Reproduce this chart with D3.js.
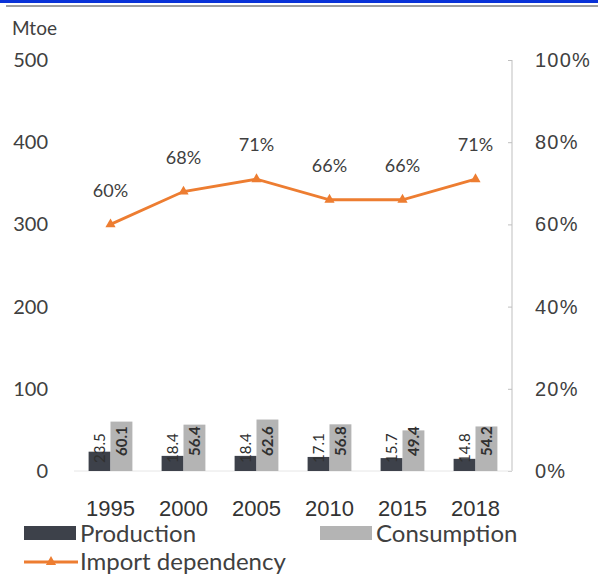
<!DOCTYPE html>
<html><head><meta charset="utf-8">
<script src="https://cdn.jsdelivr.net/npm/d3@7"></script>
<style>body{margin:0;background:#fff}svg{display:block;font-family:Lato,"Open Sans",sans-serif}</style>
</head><body>
<script>
const years = ["1995","2000","2005","2010","2015","2018"];
const production = [23.5,18.4,18.4,17.1,15.7,14.8];
const consumption = [60.1,56.4,62.6,56.8,49.4,54.2];
const importDep = [0.60,0.68,0.71,0.66,0.66,0.71];
const importLabels = ["60%","68%","71%","66%","66%","71%"];
const leftTicks = [0,100,200,300,400,500];
const rightTicks = [0,0.2,0.4,0.6,0.8,1.0];
const seriesNames = ["Production","Consumption","Import dependency"];

const W=598,H=574;
const svg=d3.select("body").append("svg").attr("width",W).attr("height",H);

// header bars
svg.append("rect").attr("x",0).attr("y",0).attr("width",W).attr("height",3).attr("fill","#0a32d8");
svg.append("rect").attr("x",6).attr("y",5).attr("width",W-6).attr("height",2).attr("fill","#a0a0a0");

const x=d3.scaleBand().domain(years).range([74,512]).paddingInner(0.4).paddingOuter(0.2);
const x1=d3.scaleBand().domain(["Production","Consumption"]).range([0,x.bandwidth()]);
const yL=d3.scaleLinear().domain([0,500]).range([471,60]);
const yR=d3.scaleLinear().domain([0,1]).range([471,60]);

const textCol="#404040";
// left axis labels
const gL=svg.append("g").attr("transform","translate(48,0)")
  .call(d3.axisLeft(yL).tickValues(leftTicks).tickSize(0).tickPadding(0));
gL.select(".domain").remove();
gL.selectAll("text").attr("font-size",20).attr("fill",textCol).attr("font-family","Lato");
svg.append("text").attr("x",12).attr("y",28).attr("dy","0.35em").attr("font-size",19).attr("fill",textCol).text("Mtoe");

// right axis
const gR=svg.append("g").attr("transform","translate(512,0)")
  .call(d3.axisRight(yR).tickValues(rightTicks).tickFormat(d3.format(".0%")).tickSize(-4).tickPadding(23));
gR.select(".domain").attr("stroke","#bfbfbf").attr("d","M0,60V471");
gR.selectAll("line").attr("stroke","#bfbfbf");
gR.selectAll("text").attr("font-size",20).attr("letter-spacing","1.2px").attr("fill",textCol);

// baseline
svg.append("line").attr("x1",74).attr("x2",512).attr("y1",471).attr("y2",471).attr("stroke","#e6e6e6");

// bars
const g=svg.append("g");
years.forEach((yr,i)=>{
  const px=x(yr)+x1("Production"), cx=x(yr)+x1("Consumption"), bw=x1.bandwidth();
  g.append("rect").attr("x",px).attr("y",yL(production[i])).attr("width",bw).attr("height",yL(0)-yL(production[i])).attr("fill","#3d414a");
  g.append("rect").attr("x",cx).attr("y",yL(consumption[i])).attr("width",bw).attr("height",yL(0)-yL(consumption[i])).attr("fill","#b4b4b4");
  g.append("text").attr("transform",`translate(${px+bw/2},${yL(0)-8}) rotate(-90)`).attr("dy","0.35em")
    .attr("font-size",15).attr("fill","#303030").text(production[i].toFixed(1));
  g.append("text").attr("transform",`translate(${cx+bw/2},${yL(0)-15}) rotate(-90)`).attr("dy","0.35em")
    .attr("font-size",15).attr("font-weight","bold").attr("fill","#303030").text(consumption[i].toFixed(1));
});

// category labels
const gX=svg.append("g").attr("transform","translate(0,508)").call(d3.axisBottom(x).tickSize(0).tickPadding(0));
gX.select(".domain").remove();
gX.selectAll("text").attr("font-size",22).attr("fill","#333").attr("dy","0.35em");

// line
const cxp=i=>x(years[i])+x.bandwidth()/2;
const line=d3.line().x((d,i)=>cxp(i)).y(d=>yR(d));
svg.append("path").datum(importDep).attr("d",line).attr("fill","none").attr("stroke","#ed7d31").attr("stroke-width",2.8);
const tri=d3.symbol().type(d3.symbolTriangle).size(45);
importDep.forEach((v,i)=>{
  svg.append("path").attr("d",tri()).attr("transform",`translate(${cxp(i)},${yR(v)})`).attr("fill","#ed7d31");
  svg.append("text").attr("x",cxp(i)).attr("y",yR(v)-34).attr("dy","0.35em").attr("text-anchor","middle")
    .attr("font-size",18).attr("fill",textCol).text(importLabels[i]);
});

// legend
const lg=svg.append("g");
lg.append("rect").attr("x",24).attr("y",526).attr("width",52).attr("height",14).attr("fill","#3d414a");
lg.append("text").attr("x",80).attr("y",534).attr("dy","0.35em").attr("font-size",24).attr("fill",textCol).text(seriesNames[0]);
lg.append("rect").attr("x",320).attr("y",526).attr("width",52).attr("height",14).attr("fill","#b4b4b4");
lg.append("text").attr("x",376).attr("y",534).attr("dy","0.35em").attr("font-size",24).attr("fill",textCol).text(seriesNames[1]);
lg.append("line").attr("x1",24).attr("x2",78).attr("y1",562).attr("y2",562).attr("stroke","#ed7d31").attr("stroke-width",2.8);
lg.append("path").attr("d",tri()).attr("transform","translate(51,562)").attr("fill","#ed7d31");
lg.append("text").attr("x",80).attr("y",562).attr("dy","0.35em").attr("font-size",24).attr("fill",textCol).text(seriesNames[2]);
</script>
</body></html>
